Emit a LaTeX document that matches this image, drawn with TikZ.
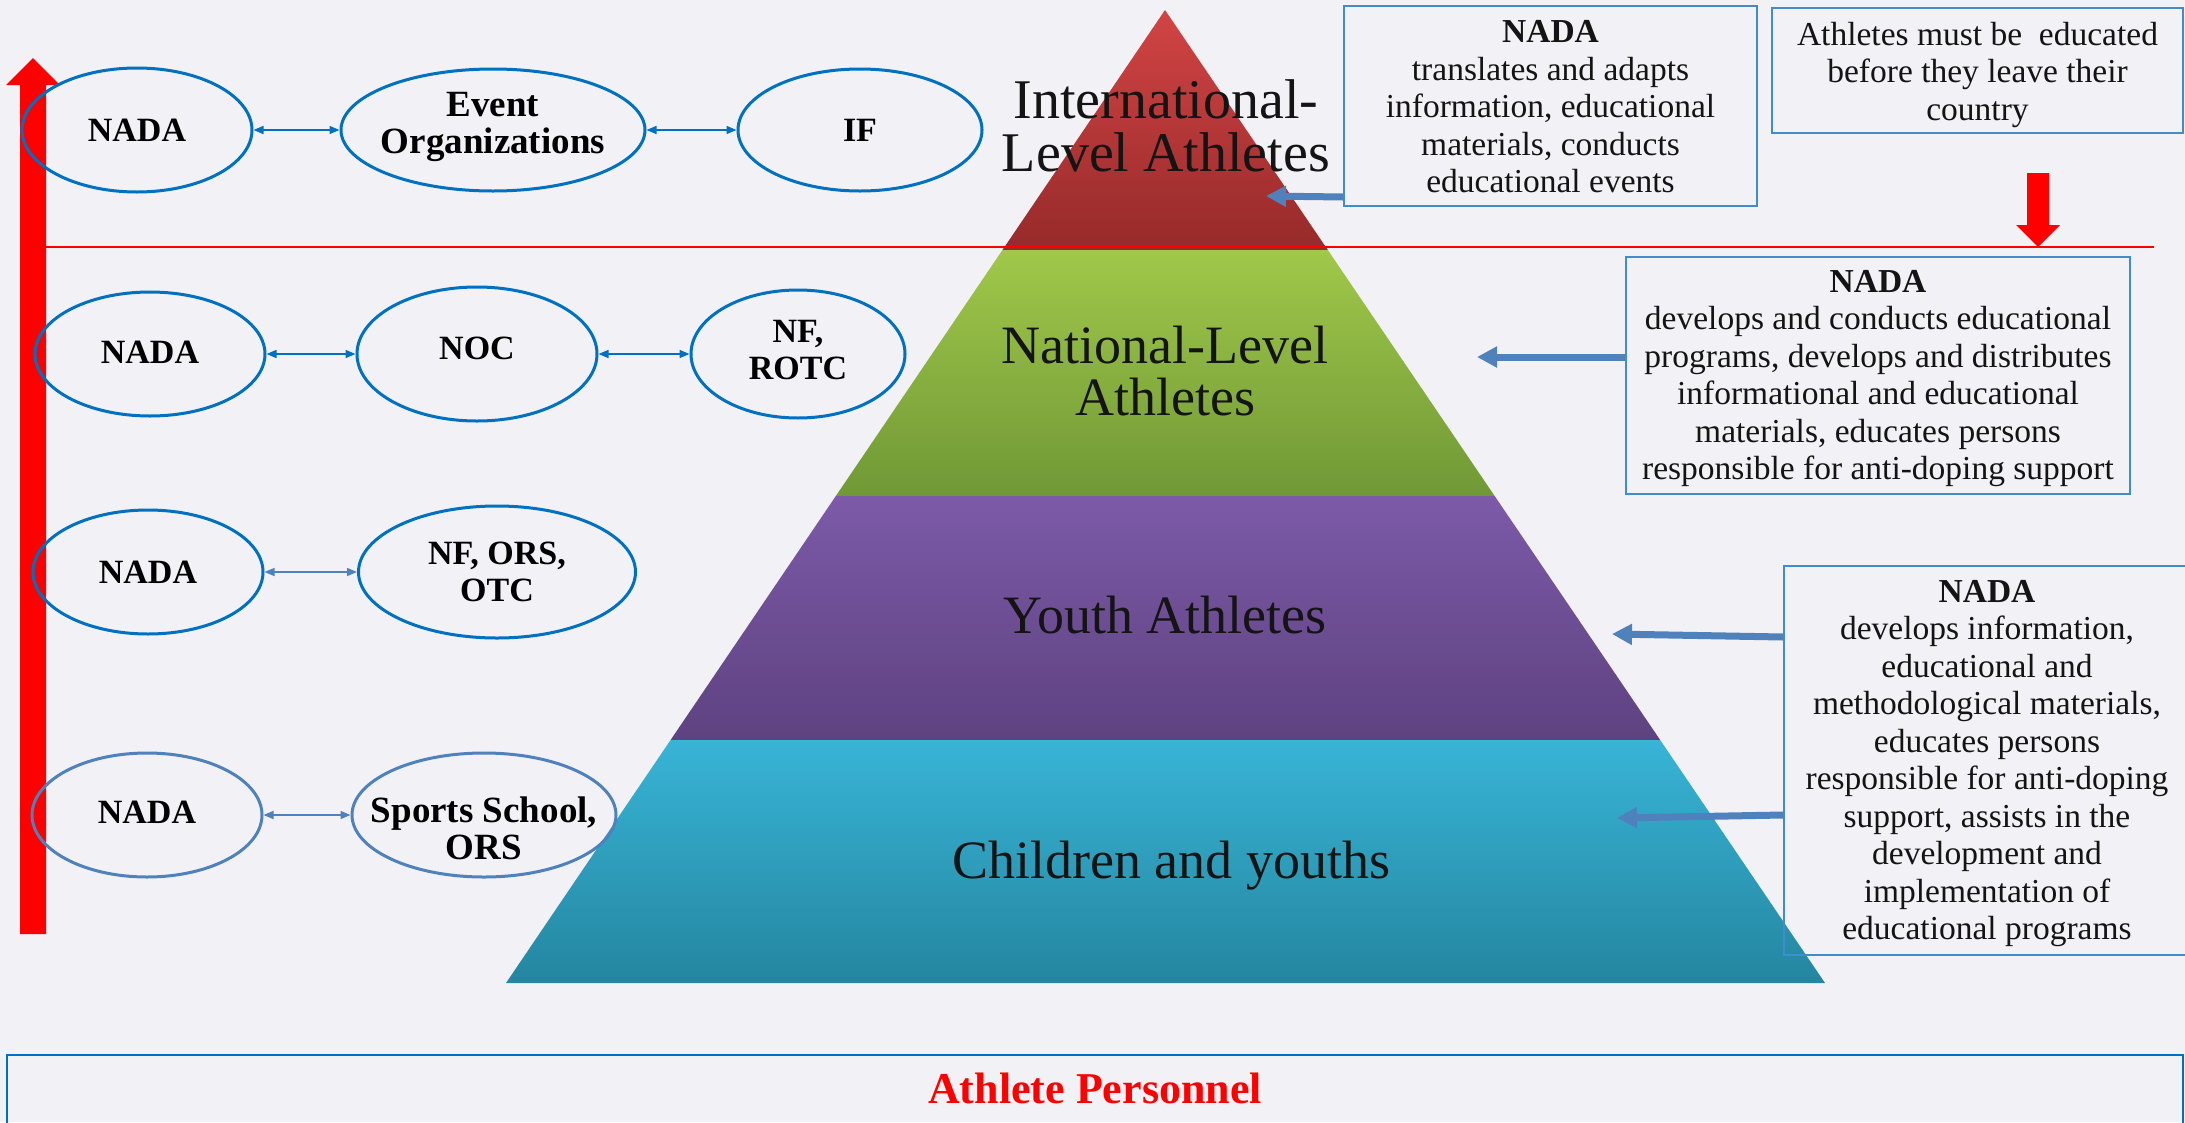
\documentclass[tikz,border=0pt]{standalone}
\usepackage{fontspec}
\setmainfont{Liberation Serif}
\usetikzlibrary{shapes.geometric,arrows.meta,calc}
\definecolor{bg}{RGB}{242,241,246}
\definecolor{ellblue}{RGB}{0,112,192}
\definecolor{ellblueb}{RGB}{79,129,189}
\definecolor{boxblue}{RGB}{65,140,205}
\definecolor{arrblue}{RGB}{79,129,189}
\definecolor{redtop}{RGB}{210,68,68}
\definecolor{redbot}{RGB}{150,42,42}
\definecolor{greentop}{RGB}{160,200,74}
\definecolor{greenbot}{RGB}{112,152,54}
\definecolor{purptop}{RGB}{124,90,168}
\definecolor{purpbot}{RGB}{94,66,128}
\definecolor{cyantop}{RGB}{56,180,214}
\definecolor{cyanbot}{RGB}{36,134,160}
\definecolor{txt}{RGB}{20,20,20}
\definecolor{brightred}{RGB}{255,0,0}
\begin{document}
\begin{tikzpicture}[x=1pt,y=-1pt,
  ell/.style={ellipse,draw=ellblue,line width=3pt,inner sep=0pt},
  ellb/.style={ell,draw=ellblueb},
  etext/.style={font=\bfseries\fontsize{34}{37}\selectfont,align=center,inner sep=0pt,text=black},
  etextb/.style={etext,font=\bfseries\fontsize{37}{37}\selectfont},
  link/.style={{Triangle[length=10pt,width=8pt]}-{Triangle[length=10pt,width=8pt]},line width=1.5pt,draw=ellblue},
  linkb/.style={link,draw=ellblueb},
  infobox/.style={rectangle,draw=boxblue,line width=2pt,inner sep=0pt},
  infotext/.style={align=center,inner sep=0pt,text=txt,font=\fontsize{33.5}{37.5}\selectfont},
  fatarrow/.style={-{Triangle[length=20pt,width=20pt]},line width=7pt,draw=arrblue},
  band/.style={font=\fontsize{54}{52}\selectfont,text=txt,align=center,inner sep=0pt}
]
\fill[bg] (0,0) rectangle (2185,1122);
\useasboundingbox (0,0) rectangle (2185,1122);
\begin{scope}
\clip (0,0) rectangle (2185,1122);

% pyramid
\coordinate (apex) at (1165,10);
\coordinate (bl) at (506,983);
\coordinate (br) at (1825,983);
\coordinate (l1) at ($(apex)!0.2467!(bl)$);
\coordinate (r1) at ($(apex)!0.2467!(br)$);
\coordinate (l2) at ($(apex)!0.4995!(bl)$);
\coordinate (r2) at ($(apex)!0.4995!(br)$);
\coordinate (l3) at ($(apex)!0.7503!(bl)$);
\coordinate (r3) at ($(apex)!0.7503!(br)$);
\shade[top color=redtop,bottom color=redbot] (apex) -- (r1) -- (l1) -- cycle;
\shade[top color=greentop,bottom color=greenbot] (l1) -- (r1) -- (r2) -- (l2) -- cycle;
\shade[top color=purptop,bottom color=purpbot] (l2) -- (r2) -- (r3) -- (l3) -- cycle;
\shade[top color=cyantop,bottom color=cyanbot] (l3) -- (r3) -- (br) -- (bl) -- cycle;

% big red arrows
\fill[brightred] (20,934) -- (46,934) -- (46,85) -- (60,85) -- (33,58) -- (6,85) -- (20,85) -- cycle;
\fill[brightred] (2027,173) -- (2049,173) -- (2049,225) -- (2060,225) -- (2038,247) -- (2016,225) -- (2027,225) -- cycle;

% separating red line
\draw[brightred,line width=2pt] (20,247) -- (2154,247);

% pyramid labels
\node[band,font=\fontsize{56}{53}\selectfont] (intl) at (1166,126) {International-\\Level Athletes};
\node[band] (natl) at (1165,371) {National-Level\\Athletes};
\node[band,anchor=base] (youth) at (1165,633) {Youth Athletes};
\node[band,anchor=base] (child) at (1171,878) {Children and youths};

% ellipses
\node[ell,minimum width=230pt,minimum height=124pt,label={[etext]center:NADA}] (nada1) at (137,130) {};
\node[ell,minimum width=304pt,minimum height=122pt,label={[etextb,yshift=3pt]center:{Event\\Organizations}}] (event) at (493,130) {};
\node[ell,minimum width=244pt,minimum height=122pt,label={[etext]center:IF}] (if) at (860,130) {};
\draw[link] (nada1) -- (event);
\draw[link] (event) -- (if);

\node[ell,minimum width=230pt,minimum height=124pt,label={[etext,yshift=2pt]center:NADA}] (nada2) at (150,354) {};
\node[ell,minimum width=240pt,minimum height=134pt,label={[etext,yshift=6pt]center:NOC}] (noc) at (477,354) {};
\node[ell,minimum width=214pt,minimum height=128pt,label={[etext,yshift=4pt]center:{NF,\\ROTC}}] (nfrotc) at (798,354) {};
\draw[link] (nada2) -- (noc);
\draw[link] (noc) -- (nfrotc);

\node[ell,minimum width=230pt,minimum height=124pt,label={[etext]center:NADA}] (nada3) at (148,572) {};
\node[ell,minimum width=277pt,minimum height=132pt,label={[etext]center:{NF, ORS,\\OTC}}] (nfors) at (497,572) {};
\draw[linkb] (nada3) -- (nfors);

\node[ellb,minimum width=230pt,minimum height=124pt,label={[etext,yshift=3pt]center:NADA}] (nada4) at (147,815) {};
\node[ellb,minimum width=264pt,minimum height=124pt,label={[etextb,yshift=-13pt]center:{Sports School,\\ORS}}] (sports) at (484,815) {};
\draw[linkb] (nada4) -- (sports);

% info boxes
\node[infobox,minimum width=413pt,minimum height=200pt,label={[infotext,yshift=-1pt]center:{\textbf{NADA}\\translates and adapts\\information, educational\\materials, conducts\\educational events}}] (box1) at (1550.5,106) {};
\node[infobox,minimum width=411pt,minimum height=125pt,label={[infotext,yshift=-4pt]center:{Athletes must be\ \ educated\\before they leave their\\country}}] (note) at (1977.5,70.5) {};
\node[infobox,minimum width=504pt,minimum height=237pt,label={[infotext,yshift=-3pt]center:{\textbf{NADA}\\develops and conducts educational\\programs, develops and distributes\\informational and educational\\materials, educates persons\\responsible for anti-doping support}}] (box2) at (1878,375.5) {};
\node[infobox,minimum width=406pt,minimum height=389pt,label={[infotext,yshift=-3pt]center:{\textbf{NADA}\\develops information,\\educational and\\methodological materials,\\educates persons\\responsible for anti-doping\\support, assists in the\\development and\\implementation of\\educational programs}}] (box3) at (1987,760.5) {};
\node[infobox,draw=ellblue,minimum width=2176pt,minimum height=72pt,label={[text=brightred,font=\bfseries\fontsize{44}{48}\selectfont,inner sep=0pt,yshift=3pt]center:Athlete Personnel}] (personnel) at (1095,1091) {};

% fat blue arrows
\coordinate (t1) at (1266,196);
\coordinate (t2) at (1477,357);
\coordinate (t3) at (1612,634);
\coordinate (t4) at (1617,818);
\draw[fatarrow] ($(box1.south west)+(0,-10)$) -- (t1);
\draw[fatarrow] ($(box2.west)+(0,-18.5)$) -- (t2);
\draw[fatarrow] ($(box3.west)+(0,-123.5)$) -- (t3);
\draw[fatarrow] ($(box3.west)+(0,54.5)$) -- (t4);
\end{scope}
\end{tikzpicture}
\end{document}
